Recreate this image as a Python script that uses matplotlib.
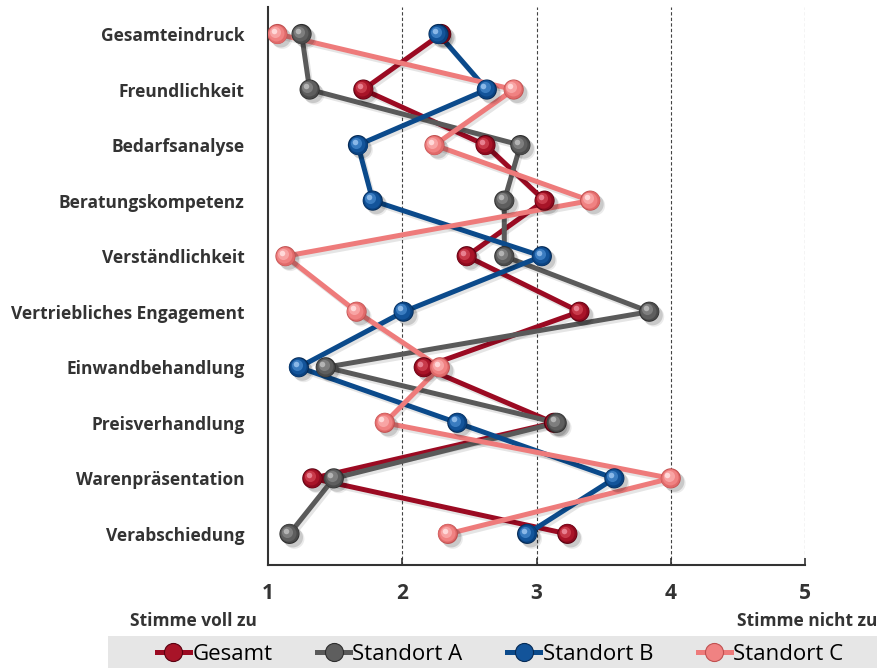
import matplotlib
matplotlib.use("Agg")
import matplotlib.pyplot as plt
import matplotlib.patheffects as pe
import matplotlib.transforms as mtransforms
from matplotlib.patches import Rectangle
from matplotlib.lines import Line2D
import numpy as np

categories = [
    "Gesamteindruck", "Freundlichkeit", "Bedarfsanalyse", "Beratungskompetenz",
    "Verständlichkeit", "Vertriebliches Engagement", "Einwandbehandlung",
    "Preisverhandlung", "Warenpräsentation", "Verabschiedung",
]
gesamt     = [2.29, 1.71, 2.62, 3.06, 2.48, 3.32, 2.16, 3.13, 1.33, 3.23]
standort_a = [1.25, 1.31, 2.88, 2.76, 2.76, 3.84, 1.43, 3.15, 1.49, 1.16]
standort_b = [2.27, 2.63, 1.67, 1.78, 3.04, 2.01, 1.23, 2.41, 3.58, 2.93]
standort_c = [1.07, 2.83, 2.24, 3.40, 1.13, 1.66, 2.28, 1.87, 4.00, 2.34]
series_names = ["Gesamt", "Standort A", "Standort B", "Standort C"]
x_ticks = [1, 2, 3, 4, 5]

FONT = "Open Sans"
TEXT = "#333333"

styles = [
    # line colour, sphere shades from rim to highlight
    ("#9b0a22", ["#5a0010", "#8c0a1e", "#a81428", "#c83a4a", "#e88090"]),
    ("#5a5a5a", ["#2e2e2e", "#4a4a4a", "#5e5e5e", "#7e7e7e", "#b4b4b4"]),
    ("#0b4a8b", ["#052a55", "#0a4280", "#13549a", "#3a7cc0", "#8ab8e8"]),
    ("#ee7b7b", ["#c05050", "#e06a6a", "#f08282", "#f8a4a4", "#ffd8d8"]),
]

fig = plt.figure(figsize=(8.77, 6.68), dpi=100)
ax = fig.add_axes([268 / 877, 1 - 565 / 668, (805 - 268) / 877, (565 - 7) / 668])

ypos = np.arange(len(categories))
line_fx = [pe.SimpleLineShadow(offset=(1.5, -2), shadow_color="black", alpha=0.10, rho=0.5),
           pe.Normal()]
marker_fx = [pe.SimplePatchShadow(offset=(3.5, -3.5), shadow_rgbFace="black", alpha=0.08),
             pe.SimplePatchShadow(offset=(2.5, -2.5), shadow_rgbFace="black", alpha=0.14),
             pe.Normal()]

for values, (lc, shades) in zip([gesamt, standort_a, standort_b, standort_c], styles):
    ax.plot(values, ypos, color=lc, lw=3.6, solid_capstyle="round", zorder=3,
            path_effects=line_fx)
    sizes = [14.5, 13.5, 11.5, 8, 4]
    offs = [0, -0.3, -0.8, -1.6, -2.4]
    for i, (s, c, o) in enumerate(zip(sizes, shades, offs)):
        tr = mtransforms.offset_copy(ax.transData, fig=fig, x=o, y=-o, units="points")
        ax.plot(values, ypos, ls="none", marker="o", ms=s, mfc=c, mec="none",
                transform=tr, zorder=4,
                path_effects=marker_fx if i == 0 else None)

ax.set_xlim(1, 5)
ax.set_ylim(len(categories) - 1 + 0.56, -0.486)
ax.set_yticks(ypos)
ax.set_yticklabels(categories, fontsize=12.5, fontweight="bold", color=TEXT,
                   fontfamily=FONT)
ax.set_xticks(x_ticks)
ax.set_xticklabels([str(t) for t in x_ticks], fontsize=15, fontweight="bold",
                   color=TEXT, fontfamily=FONT)
ax.tick_params(axis="y", length=0, pad=17)
ax.tick_params(axis="x", direction="in", length=5, width=1.2, color=TEXT, pad=13)

for sp in ["top", "right"]:
    ax.spines[sp].set_visible(False)
for sp in ["left", "bottom"]:
    ax.spines[sp].set_linewidth(1.5)
    ax.spines[sp].set_color(TEXT)
for xv in x_ticks[1:]:
    ax.axvline(xv, color="#444444", lw=0.8, ls=(0, (3, 2)), zorder=1)

fig.text(130 / 877, 1 - 621 / 668, "Stimme voll zu", fontsize=12.5, fontweight="bold",
         color=TEXT, fontfamily=FONT, va="center", ha="left")
fig.text(877 / 877, 1 - 621 / 668, "Stimme nicht zu", fontsize=12.5, fontweight="bold",
         color=TEXT, fontfamily=FONT, va="center", ha="right")

fig.patches.append(Rectangle((108 / 877, 0), 1 - 108 / 877, 32 / 668,
                             transform=fig.transFigure, facecolor="#e6e6e6",
                             edgecolor="none", zorder=0))

handles = [Line2D([], [], color=lc, lw=3.6, marker="o", ms=13, mfc=shades[2],
                  mec=shades[0], mew=0.8) for lc, shades in styles]
fig.legend(handles, series_names, loc="center", ncol=4,
           bbox_to_anchor=(500 / 877, 14 / 668),
           frameon=False, handlelength=1.5, handletextpad=0.1, columnspacing=2.0,
           prop={"family": FONT, "size": 16})

fig.savefig("out.png", dpi=100)
